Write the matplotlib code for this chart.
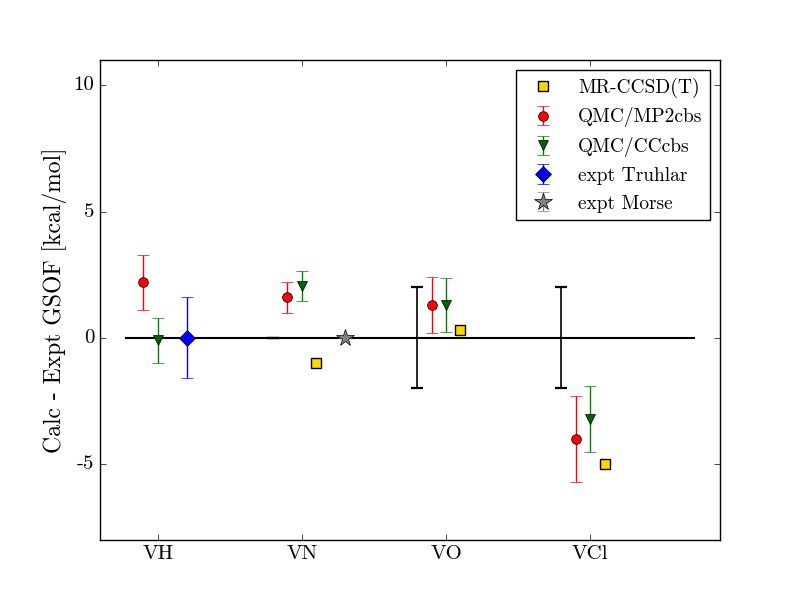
import matplotlib
matplotlib.use("Agg")
import matplotlib.pyplot as plt
import numpy as np

plt.style.use('classic')
plt.rcParams['font.family'] = ['cmr10', 'DejaVu Serif']
plt.rcParams['axes.formatter.use_mathtext'] = False
plt.rcParams['axes.unicode_minus'] = False
plt.rcParams['mathtext.fontset'] = 'cm'

molecules = ['VH', 'VN', 'VO', 'VCl']
nan = np.nan

mr_ccsdt = [nan, -1.0, 0.3, -5.0]
qmc_mp2 = [2.2, 1.6, 1.3, -4.0]
qmc_mp2_err = [1.1, 0.6, 1.1, 1.7]
qmc_cc = [-0.1, 2.05, 1.3, -3.2]
qmc_cc_err = [0.9, 0.6, 1.07, 1.3]
expt_truhlar = [0.0, nan, nan, nan]
expt_truhlar_err = [1.6, nan, nan, nan]
expt_morse = [nan, 0.0, nan, nan]
expt_morse_err = [nan, 0.0, nan, nan]
expt_unc = [nan, 0.0, 0.0, 0.0]
expt_unc_err = [nan, 0.0, 2.0, 2.0]

x = np.arange(len(molecules))

fig = plt.figure(figsize=(8, 6), dpi=100)
ax = fig.add_axes([0.125, 0.1, 0.775, 0.8])

ax.plot([-0.22, 3.72], [0, 0], color='k', lw=1.5, zorder=1)
ax.errorbar(x - 0.2, expt_unc, yerr=expt_unc_err, fmt='none', ecolor='k', capsize=4, elinewidth=1.2, capthick=1.6, zorder=2)

h_mr, = ax.plot(x + 0.1, mr_ccsdt, 's', color='#FFD700', mec='k', mew=1, ms=7, linestyle='none', zorder=3)
h_mp2 = ax.errorbar(x - 0.1, qmc_mp2, yerr=qmc_mp2_err, fmt='o', color='r', ecolor='r', mec='k', mew=0.5, ms=7, capsize=4, zorder=3)
h_cc = ax.errorbar(x, qmc_cc, yerr=qmc_cc_err, fmt='v', color='g', mfc='#006400', ecolor='g', mec='k', mew=0.5, ms=7, capsize=4, zorder=3)
h_tr = ax.errorbar(x + 0.2, expt_truhlar, yerr=expt_truhlar_err, fmt='D', color='b', ecolor='b', mec='k', mew=0.5, ms=8, capsize=4, zorder=3)
h_mo = ax.errorbar(x + 0.3, expt_morse, yerr=expt_morse_err, fmt='*', color='gray', mfc='gray', ecolor='gray', mec='k', mew=0.5, ms=13, capsize=4, zorder=3)

ax.set_xlim(-0.4, 3.9)
ax.set_ylim(-8, 11)
ax.set_xticks(x)
ax.set_xticklabels(molecules, fontsize=15)
ax.set_yticks([-5, 0, 5, 10])
ax.tick_params(labelsize=15)
ax.set_ylabel('Calc - Expt GSOF [kcal/mol]', fontsize=17)

ax.legend([h_mr, h_mp2, h_cc, h_tr, h_mo],
          ['MR-CCSD(T)', 'QMC/MP2cbs', 'QMC/CCcbs', 'expt Truhlar', 'expt Morse'],
          loc='upper right', numpoints=1, fontsize=14)

fig.savefig('out.png', dpi=100)
